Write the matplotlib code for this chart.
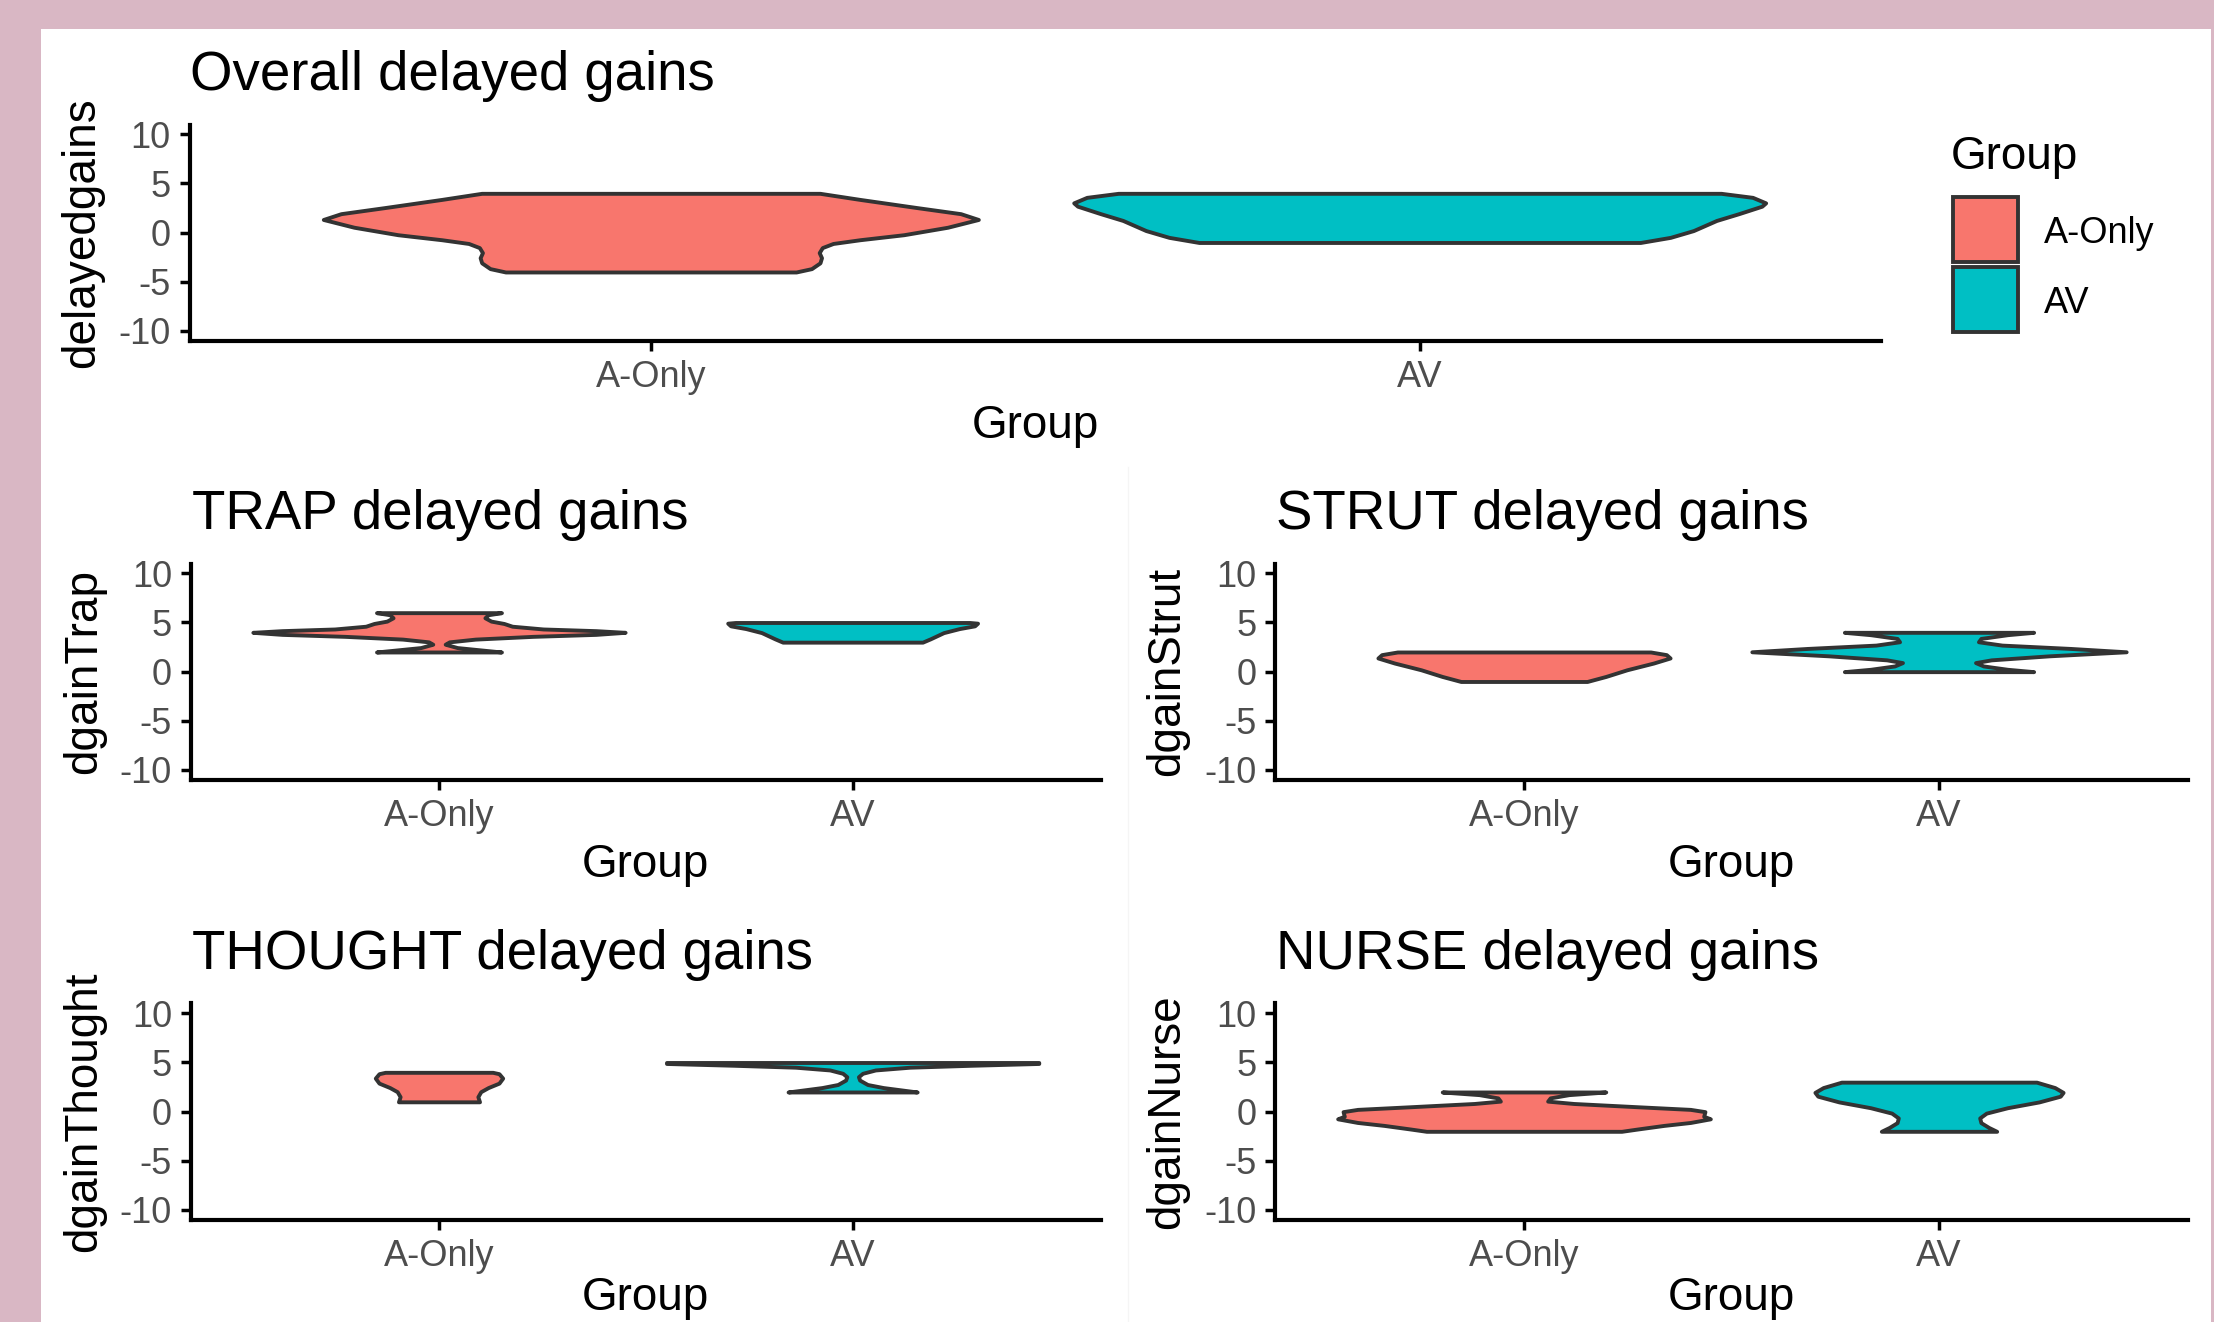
import numpy as np
import matplotlib
matplotlib.use('Agg')
import matplotlib.pyplot as plt
from matplotlib.patches import Rectangle
from matplotlib.lines import Line2D

plt.rcParams['font.family'] = ['Liberation Sans', 'DejaVu Sans']
plt.rcParams['axes.unicode_minus'] = False

# groups / colours
groups = ['A-Only', 'AV']
group_colors = ['#F8766D', '#00BFC4']

# violin profiles: value levels and half widths (category units)
overall_aonly_y = [-4, -3.66, -3.07, -2.55, -2.03, -1.52, -1.10, -0.72, -0.21, 0.55, 1.34, 1.93, 2.55, 3.38, 4]
overall_aonly_w = [0.189, 0.209, 0.220, 0.222, 0.219, 0.223, 0.237, 0.272, 0.329, 0.386, 0.426, 0.403, 0.346, 0.272, 0.220]
overall_av_y = [-1, -0.48, 0.21, 1.24, 1.93, 2.69, 3.03, 3.59, 4]
overall_av_w = [0.287, 0.326, 0.356, 0.386, 0.415, 0.445, 0.450, 0.433, 0.392]

trap_aonly_y = [2, 2.21, 2.45, 2.79, 3.03, 3.31, 3.59, 3.79, 4.0, 4.17, 4.34, 4.62, 4.90, 5.14, 5.48, 5.79, 6]
trap_aonly_w = [0.151, 0.101, 0.044, 0.015, 0.025, 0.088, 0.227, 0.379, 0.450, 0.379, 0.252, 0.177, 0.157, 0.126, 0.111, 0.119, 0.151]
trap_av_y = [3, 3.34, 3.97, 4.38, 4.66, 4.93, 5]
trap_av_w = [0.169, 0.188, 0.220, 0.258, 0.295, 0.302, 0.283]

strut_aonly_y = [-1, -0.49, 0.19, 0.875, 1.39, 1.73, 2]
strut_aonly_w = [0.152, 0.197, 0.248, 0.312, 0.352, 0.343, 0.305]
strut_av_y = [0, 0.24, 0.58, 0.92, 1.20, 1.61, 2.02, 2.36, 2.70, 3.04, 3.38, 3.76, 4]
strut_av_w = [0.228, 0.165, 0.107, 0.088, 0.126, 0.266, 0.451, 0.317, 0.152, 0.095, 0.101, 0.165, 0.228]

thought_aonly_y = [1, 1.52, 2.03, 2.45, 2.90, 3.41, 3.86, 4]
thought_aonly_w = [0.098, 0.094, 0.101, 0.119, 0.145, 0.154, 0.145, 0.130]
thought_av_y = [2, 2.17, 2.45, 2.76, 3.21, 3.55, 3.90, 4.24, 4.52, 4.72, 4.90, 5]
thought_av_w = [0.156, 0.125, 0.074, 0.036, 0.017, 0.014, 0.024, 0.055, 0.138, 0.289, 0.450, 0.450]

nurse_aonly_y = [-2, -1.77, -1.40, -1.10, -0.73, -0.47, 0, 0.23, 0.5, 0.83, 1.07, 1.4, 1.73, 2]
nurse_aonly_w = [0.235, 0.273, 0.337, 0.401, 0.449, 0.433, 0.436, 0.401, 0.273, 0.120, 0.057, 0.063, 0.108, 0.197]
nurse_av_y = [-2, -1.61, -1.12, -0.64, -0.15, 0.40, 0.99, 1.57, 1.96, 2.45, 3]
nurse_av_w = [0.139, 0.120, 0.101, 0.098, 0.114, 0.165, 0.241, 0.292, 0.299, 0.279, 0.235]

y_ticks = [-10, -5, 0, 5, 10]

W, H = 2214, 1322
fig = plt.figure(figsize=(W / 100, H / 100), dpi=100, facecolor='#D9B7C4')

# white card on the pink background
fig.add_artist(Rectangle((41 / W, 0), (2211 - 41) / W, 1 - 29 / H, transform=fig.transFigure,
                         facecolor='white', edgecolor='none', zorder=-5))
fig.add_artist(Line2D([1128 / W, 1128 / W], [1 - 467 / H, 0], transform=fig.transFigure,
                      color='#F5F5F5', lw=1, zorder=-4))


def fx(x):
    return x / W


def fy(y):
    return 1 - y / H


def make_panel(box, title, ylab, ylab_x, profiles, xlab_gap=97):
    x0, y0, x1, y1 = box
    ax = fig.add_axes([fx(x0), fy(y1), (x1 - x0) / W, (y1 - y0) / H])
    ax.set_facecolor('none')
    for pos, (vals, widths), color in zip([1, 2], profiles, group_colors):
        v = np.array(vals)
        w = np.array(widths)
        ax.fill_betweenx(v, pos - w, pos + w, facecolor=color, edgecolor='#333333',
                         linewidth=2.8, joinstyle='round')
    ax.set_xlim(0.4, 2.6)
    ax.set_ylim(-11, 11)
    ax.set_xticks([1, 2])
    ax.set_xticklabels(groups)
    ax.set_yticks(y_ticks)
    for s in ['top', 'right']:
        ax.spines[s].set_visible(False)
    for s in ['left', 'bottom']:
        ax.spines[s].set_linewidth(3)
        ax.spines[s].set_color('black')
    ax.tick_params(length=7.5, width=2.5, color='black', labelsize=26,
                   labelcolor='#4D4D4D', pad=6)
    # title, axis titles
    fig.text(fx(x0 + 1), fy(y0 - 34.5), title, fontsize=39.3, ha='left', va='baseline')
    fig.text(fx((x0 + x1) / 2), fy(y1 + xlab_gap), 'Group', fontsize=33, ha='center', va='baseline')
    fig.text(fx(ylab_x), fy((y0 + y1) / 2), ylab, fontsize=33, rotation=90,
             ha='center', va='center')
    return ax


make_panel((189.5, 124.5, 1881, 340.8), 'Overall delayed gains', 'delayedgains', 82,
           [(overall_aonly_y, overall_aonly_w), (overall_av_y, overall_av_w)])
make_panel((190.8, 563.5, 1100.8, 779.8), 'TRAP delayed gains', 'dgainTrap', 84,
           [(trap_aonly_y, trap_aonly_w), (trap_av_y, trap_av_w)])
make_panel((1275, 563.5, 2188, 779.8), 'STRUT delayed gains', 'dgainStrut', 1167,
           [(strut_aonly_y, strut_aonly_w), (strut_av_y, strut_av_w)])
make_panel((190.8, 1003.5, 1100.8, 1219.8), 'THOUGHT delayed gains', 'dgainThought', 84,
           [(thought_aonly_y, thought_aonly_w), (thought_av_y, thought_av_w)], xlab_gap=90)
make_panel((1275, 1003.5, 2188, 1219.8), 'NURSE delayed gains', 'dgainNurse', 1167,
           [(nurse_aonly_y, nurse_aonly_w), (nurse_av_y, nurse_av_w)], xlab_gap=90)

# legend
fig.text(fx(1950.5), fy(169), 'Group', fontsize=33, ha='left', va='baseline')
key_tops = [197, 267]
for top, label, color in zip(key_tops, groups, group_colors):
    fig.add_artist(Rectangle((fx(1953), fy(top + 65)), 65 / W, 65 / H, transform=fig.transFigure,
                             facecolor=color, edgecolor='#333333', linewidth=2.8))
    fig.text(fx(2043.5), fy(top + 36.5), label, fontsize=26, ha='left', va='center')

fig.savefig('out.png', dpi=100)
